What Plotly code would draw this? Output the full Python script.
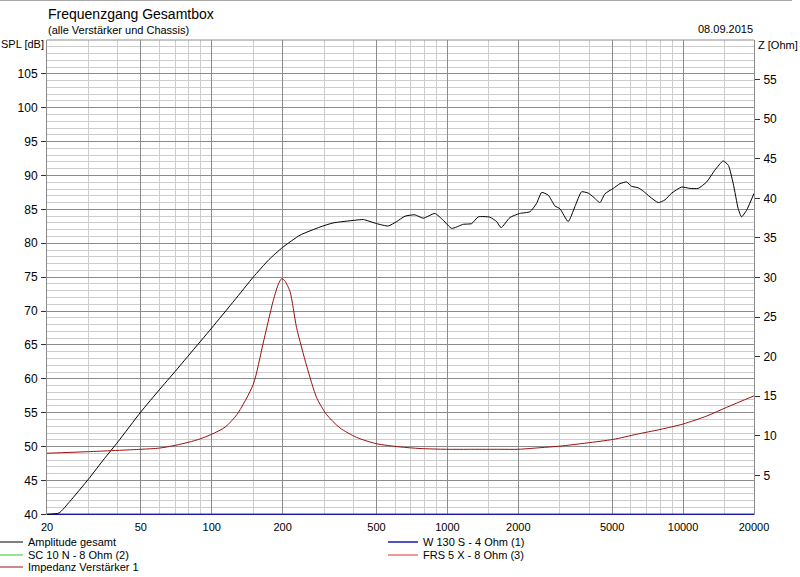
import plotly.graph_objects as go

# ---- data ----
freq_spl = [20, 22.5, 25, 30, 35, 40, 50, 60, 70, 80, 100, 125, 150, 175, 200,
            237, 288, 327, 405, 440, 501, 561, 609, 661, 728, 790, 885, 960,
            1043, 1168, 1267, 1352, 1514, 1618, 1690, 1842, 2027, 2240, 2391,
            2512, 2680, 2860, 3003, 3255, 3476, 3710, 3960, 4158, 4440, 4660,
            5055, 5400, 5760, 6050, 6450, 6777, 7236, 7849, 8375, 8944, 9860,
            10690, 11600, 12590, 13650, 14800, 15570, 16330, 17140, 17700,
            18620, 20000]
spl_gesamt = [40.0, 40.2, 41.9, 45.2, 48.2, 50.7, 55.1, 58.4, 61.1, 63.5, 67.5,
              71.6, 75.0, 77.6, 79.4, 81.2, 82.4, 83.0, 83.4, 83.5, 82.9, 82.55,
              83.2, 84.0, 84.2, 83.7, 84.4, 83.4, 82.2, 82.8, 82.9, 83.9, 83.85,
              83.2, 82.3, 83.8, 84.4, 84.65, 85.9, 87.5, 87.1, 85.5, 85.1, 83.2,
              85.4, 87.6, 87.4, 86.85, 86.0, 87.3, 88.1, 88.8, 89.05, 88.4, 88.2,
              87.7, 86.85, 86.0, 86.4, 87.4, 88.3, 88.1, 88.1, 89.05, 90.8,
              92.15, 91.5, 88.8, 85.1, 83.9, 84.9, 87.35]

freq_imp = [20, 30, 50, 60, 70, 80, 89, 100, 114, 128, 150, 165, 182.5, 192, 198,
            204, 215, 229, 253, 279, 307, 350, 412, 501, 629, 765, 993, 1285,
            1671, 2000, 2470, 3003, 3900, 5055, 6350, 7980, 10020, 12590, 15310,
            20000]
imp_verst = [7.8, 8.0, 8.3, 8.45, 8.8, 9.2, 9.6, 10.2, 11.1, 12.7, 16.5, 21.6,
             27.1, 29.2, 29.85, 29.6, 28.2, 23.7, 18.8, 14.8, 12.7, 11.0, 9.8,
             9.0, 8.6, 8.4, 8.3, 8.3, 8.3, 8.3, 8.5, 8.7, 9.1, 9.55, 10.2, 10.8,
             11.5, 12.5, 13.6, 15.05]

# driver curves lie at / below the bottom of the SPL scale
freq_flat = [20, 20000]
spl_w130 = [40, 40]
spl_sc10 = [40, 40]
spl_frs5 = [40, 40]

x_tick_vals = [20, 50, 100, 200, 500, 1000, 2000, 5000, 10000, 20000]
x_tick_text = ["20", "50", "100", "200", "500", "1000", "2000", "5000", "10000", "20000"]
x_minor_vals = [30, 40, 60, 70, 80, 90, 150, 300, 400, 600, 700, 800, 900, 1500,
                3000, 4000, 6000, 7000, 8000, 9000, 15000]
spl_tick_vals = [40, 45, 50, 55, 60, 65, 70, 75, 80, 85, 90, 95, 100, 105]
z_tick_vals = [5, 10, 15, 20, 25, 30, 35, 40, 45, 50, 55]

FONT = "Liberation Sans"
MAJOR = "#8c8c8c"
MINOR = "#cdcdcd"

# plot-area geometry in pixels (for placing texts / legends)
W, H = 800, 577
ML, MR, MT, MB = 47, 46, 40, 62
PW, PH = W - ML - MR, H - MT - MB


def px(xp):
    return (xp - ML) / PW


def py(yp):
    return (H - MB - yp) / PH


fig = go.Figure()

fig.add_trace(go.Scatter(x=freq_flat, y=spl_sc10, mode="lines", name="SC 10 N - 8 Ohm (2)",
                         line=dict(color="#20d020", width=1), legend="legend2"))
fig.add_trace(go.Scatter(x=freq_flat, y=spl_frs5, mode="lines", name="FRS 5 X - 8 Ohm (3)",
                         line=dict(color="#e03030", width=1), legend="legend5"))
fig.add_trace(go.Scatter(x=freq_flat, y=spl_w130, mode="lines", name="W 130 S - 4 Ohm (1)",
                         line=dict(color="#1818b0", width=1.3), legend="legend4"))
fig.add_trace(go.Scatter(x=freq_imp, y=imp_verst, mode="lines", name="Impedanz Verstärker 1",
                         line=dict(color="#9a1010", width=1, shape="spline", smoothing=0.7),
                         yaxis="y2", legend="legend3"))
fig.add_trace(go.Scatter(x=freq_spl, y=spl_gesamt, mode="lines", name="Amplitude gesamt",
                         line=dict(color="#000000", width=1, shape="spline", smoothing=0.5),
                         legend="legend"))

lg = dict(xanchor="left", yanchor="middle", bgcolor="rgba(0,0,0,0)", borderwidth=0,
          font=dict(family=FONT, size=11, color="#000"), itemwidth=30)
left_x = px(-12)
right_x = px(383)

fig.update_layout(
    width=W, height=H,
    margin=dict(l=ML, r=MR, t=MT, b=MB, autoexpand=False),
    paper_bgcolor="white", plot_bgcolor="white",
    font=dict(family=FONT, size=11, color="#000"),
    showlegend=True,
    legend=dict(x=left_x, y=py(542), **lg),
    legend2=dict(x=left_x, y=py(555), **lg),
    legend3=dict(x=left_x, y=py(567), **lg),
    legend4=dict(x=right_x, y=py(542), **lg),
    legend5=dict(x=right_x, y=py(555), **lg),
    xaxis=dict(type="log", range=[1.30103, 4.30103], tickmode="array",
               tickvals=x_tick_vals, ticktext=x_tick_text, ticks="",
               showgrid=True, gridcolor=MAJOR, gridwidth=1,
               minor=dict(tickmode="array", tickvals=x_minor_vals, showgrid=True,
                          gridcolor=MINOR, gridwidth=1, ticks=""),
               showline=False, zeroline=False, ticklabelstandoff=4,
               tickfont=dict(family=FONT, size=11)),
    yaxis=dict(range=[39.9, 110], tickmode="array", tickvals=spl_tick_vals,
               ticks="outside", ticklen=5, tickcolor="#333", showgrid=True,
               gridcolor=MAJOR, gridwidth=1,
               minor=dict(dtick=1, tick0=40, showgrid=True, gridcolor=MINOR, gridwidth=1, ticks=""),
               showline=True, mirror=True, linecolor=MAJOR, linewidth=1,
               zeroline=False, tickfont=dict(family=FONT, size=12), ticklabelstandoff=1),
    yaxis2=dict(range=[0, 60], overlaying="y", side="right", tickmode="array",
                tickvals=z_tick_vals, ticks="outside", ticklen=5, tickcolor="#333",
                showgrid=False, zeroline=False, showline=False,
                tickfont=dict(family=FONT, size=12), ticklabelstandoff=1),
    shapes=[
        dict(type="line", xref="paper", yref="paper", x0=0, x1=1, y0=1, y1=1,
             line=dict(color=MAJOR, width=1)),
        dict(type="line", xref="paper", yref="paper", x0=px(0), x1=px(792),
             y0=py(0.5), y1=py(0.5), line=dict(color="#a8a8a8", width=1)),
    ],
    annotations=[
        dict(text="Frequenzgang Gesamtbox", xref="paper", yref="paper", x=px(46), y=py(14),
             xanchor="left", yanchor="middle", showarrow=False, font=dict(family=FONT, size=14)),
        dict(text="(alle Verstärker und Chassis)", xref="paper", yref="paper", x=px(46), y=py(30),
             xanchor="left", yanchor="middle", showarrow=False, font=dict(family=FONT, size=11)),
        dict(text="08.09.2015", xref="paper", yref="paper", x=px(755), y=py(29),
             xanchor="right", yanchor="middle", showarrow=False, font=dict(family=FONT, size=11)),
        dict(text="SPL [dB]", xref="paper", yref="paper", x=px(46), y=py(44),
             xanchor="right", yanchor="middle", showarrow=False, font=dict(family=FONT, size=11)),
        dict(text="Z [Ohm]", xref="paper", yref="paper", x=px(756), y=py(45),
             xanchor="left", yanchor="middle", showarrow=False, font=dict(family=FONT, size=11)),
    ],
)

fig.write_html("out.html", config={"displayModeBar": False},
               post_script="document.body.style.margin='0px';")
